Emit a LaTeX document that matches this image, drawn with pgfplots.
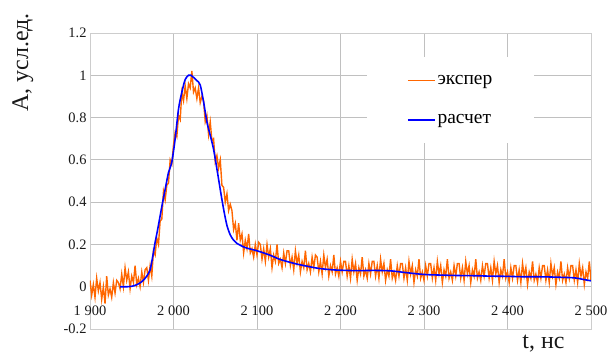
\documentclass[border=0pt]{standalone}
\usepackage{fontspec}
\setmainfont{Liberation Serif}
\newfontfamily\tnr{Liberation Serif}
\usepackage{pgfplots}
\pgfplotsset{compat=1.18}
\definecolor{expo}{RGB}{255,102,0}
\definecolor{gridc}{RGB}{192,192,192}
\begin{document}
\begin{tikzpicture}
\path[use as bounding box] (-90bp,-25bp) rectangle (519bp,329bp);
\begin{axis}[
  scale only axis, width=501bp, height=296bp,
  xmin=1900, xmax=2500, ymin=-0.2, ymax=1.2,
  xtick={1900,2000,2100,2200,2300,2400,2500},
  xticklabels={1 900,2 000,2 100,2 200,2 300,2 400,2 500},
  ytick={-0.2,0,0.2,0.4,0.6,0.8,1,1.2},
  yticklabels={-0.2,0,0.2,0.4,0.6,0.8,1,1.2},
  /pgf/number format/assume math mode=true,
  major tick length=0pt,
  grid=major, grid style={draw=gridc, line width=0.8pt},
  axis line style={draw=gridc!80, line width=0.8pt},
  tick label style={font=\tnr\fontsize{14.5}{16}\selectfont, text=black!90},
  xticklabel style={yshift=27bp},
  xlabel={t, нс}, ylabel={А, усл.ед.},
  label style={font=\tnr\fontsize{24}{26}\selectfont, text=black!90},
  ylabel style={at={(rel axis cs:-0.134,0.90)}, anchor=center},
  xlabel style={at={(rel axis cs:0.905,-0.05)}, anchor=center},
  legend style={at={(rel axis cs:0.553,0.919)}, anchor=north west,
    draw=none, fill=white, font=\tnr\fontsize{19.5}{21}\selectfont,
    inner xsep=40bp, inner ysep=16bp, row sep=25bp},
  legend cell align=left,
  legend image code/.code={\draw[#1, line width=1.4pt] (0bp,0bp) -- (27bp,0bp);},
]
\addplot[expo, line width=1.4pt] coordinates {
(1900,0.03)(1902,-0.04)(1904,0.01)(1906,-0.05)(1908,0.04)(1910,-0.02)(1912,0.02)(1914,-0.06)(1916,0.00)(1918,-0.08)
(1920,0.05)(1922,-0.04)(1924,-0.01)(1926,-0.05)(1928,0.02)(1930,-0.03)(1932,0.03)(1934,0.02)(1936,-0.01)(1938,0.06)
(1940,0.00)(1942,0.09)(1944,0.03)(1946,0.07)(1948,-0.01)(1950,0.05)(1952,0.02)(1954,0.10)(1956,0.01)(1958,0.04)
(1960,0.00)(1962,0.07)(1964,0.02)(1966,0.08)(1968,0.09)(1970,0.03)(1972,0.10)(1974,0.05)(1976,0.17)(1978,0.15)
(1980,0.23)(1982,0.20)(1984,0.31)(1986,0.32)(1988,0.45)(1990,0.41)(1992,0.48)(1994,0.49)(1996,0.60)(1998,0.58)
(2000,0.67)(2002,0.73)(2004,0.71)(2006,0.81)(2008,0.79)(2010,0.92)(2012,0.88)(2014,0.95)(2016,0.89)(2018,0.96)
(2020,0.94)(2022,1.02)(2024,0.92)(2026,0.94)(2028,0.89)(2030,0.94)(2032,0.87)(2034,0.90)(2036,0.88)(2038,0.78)
(2040,0.81)(2042,0.72)(2044,0.78)(2046,0.69)(2048,0.70)(2050,0.59)(2052,0.62)(2054,0.56)(2056,0.60)(2058,0.48)
(2060,0.47)(2062,0.40)(2064,0.44)(2066,0.36)(2068,0.39)(2070,0.36)(2072,0.27)(2074,0.30)(2076,0.22)(2078,0.30)
(2080,0.22)(2082,0.25)(2084,0.16)(2086,0.22)(2088,0.18)(2090,0.25)(2092,0.16)(2094,0.18)(2096,0.14)(2098,0.20)
(2100,0.15)(2102,0.21)(2104,0.20)(2106,0.13)(2108,0.18)(2110,0.12)(2112,0.20)(2114,0.14)(2116,0.18)(2118,0.09)
(2120,0.15)(2122,0.12)(2124,0.20)(2126,0.11)(2128,0.13)(2130,0.09)(2132,0.16)(2134,0.11)(2136,0.17)(2138,0.17)
(2140,0.10)(2142,0.14)(2144,0.08)(2146,0.17)(2148,0.11)(2150,0.15)(2152,0.07)(2154,0.12)(2156,0.09)(2158,0.17)
(2160,0.08)(2162,0.11)(2164,0.07)(2166,0.14)(2168,0.09)(2170,0.15)(2172,0.14)(2174,0.07)(2176,0.12)(2178,0.06)
(2180,0.15)(2182,0.09)(2184,0.13)(2186,0.05)(2188,0.10)(2190,0.07)(2192,0.15)(2194,0.06)(2196,0.09)(2198,0.05)
(2200,0.12)(2202,0.07)(2204,0.12)(2206,0.12)(2208,0.05)(2210,0.10)(2212,0.04)(2214,0.13)(2216,0.07)(2218,0.11)
(2220,0.03)(2222,0.09)(2224,0.06)(2226,0.14)(2228,0.05)(2230,0.08)(2232,0.04)(2234,0.11)(2236,0.06)(2238,0.12)
(2240,0.12)(2242,0.05)(2244,0.10)(2246,0.04)(2248,0.13)(2250,0.07)(2252,0.11)(2254,0.03)(2256,0.08)(2258,0.05)
(2260,0.13)(2262,0.04)(2264,0.07)(2266,0.03)(2268,0.10)(2270,0.05)(2272,0.11)(2274,0.11)(2276,0.04)(2278,0.09)
(2280,0.03)(2282,0.12)(2284,0.06)(2286,0.10)(2288,0.02)(2290,0.08)(2292,0.05)(2294,0.13)(2296,0.04)(2298,0.07)
(2300,0.03)(2302,0.10)(2304,0.05)(2306,0.11)(2308,0.11)(2310,0.04)(2312,0.09)(2314,0.03)(2316,0.12)(2318,0.06)
(2320,0.10)(2322,0.02)(2324,0.08)(2326,0.05)(2328,0.13)(2330,0.04)(2332,0.07)(2334,0.03)(2336,0.10)(2338,0.05)
(2340,0.11)(2342,0.11)(2344,0.04)(2346,0.09)(2348,0.03)(2350,0.12)(2352,0.06)(2354,0.10)(2356,0.02)(2358,0.08)
(2360,0.05)(2362,0.13)(2364,0.04)(2366,0.07)(2368,0.03)(2370,0.10)(2372,0.05)(2374,0.11)(2376,0.11)(2378,0.04)
(2380,0.09)(2382,0.03)(2384,0.12)(2386,0.06)(2388,0.10)(2390,0.02)(2392,0.08)(2394,0.05)(2396,0.13)(2398,0.04)
(2400,0.07)(2402,0.02)(2404,0.09)(2406,0.04)(2408,0.10)(2410,0.10)(2412,0.03)(2414,0.08)(2416,0.02)(2418,0.11)
(2420,0.05)(2422,0.09)(2424,0.01)(2426,0.07)(2428,0.04)(2430,0.12)(2432,0.03)(2434,0.06)(2436,0.02)(2438,0.09)
(2440,0.04)(2442,0.10)(2444,0.10)(2446,0.03)(2448,0.08)(2450,0.02)(2452,0.11)(2454,0.05)(2456,0.09)(2458,0.01)
(2460,0.07)(2462,0.04)(2464,0.12)(2466,0.03)(2468,0.06)(2470,0.02)(2472,0.09)(2474,0.04)(2476,0.10)(2478,0.10)
(2480,0.03)(2482,0.08)(2484,0.02)(2486,0.11)(2488,0.05)(2490,0.09)(2492,0.01)(2494,0.07)(2496,0.04)(2498,0.12)
(2500,0.03)
};
\addlegendentry{экспер}
\addplot[blue, line width=1.6pt, smooth] coordinates {
(1936,0)(1945,0)(1950,0.002)(1955,0.008)(1960,0.018)(1965,0.035)(1968,0.05)(1972,0.08)(1975,0.14)(1978,0.21)
(1981,0.27)(1984,0.335)(1987,0.40)(1990,0.46)(1994,0.54)(1998,0.59)(2002,0.70)(2006,0.84)(2010,0.92)(2014,0.98)
(2018,1.0)(2021,1.0)(2024,0.99)(2028,0.975)(2032,0.954)(2036,0.875)(2040,0.78)(2044,0.716)(2048,0.65)(2052,0.557)
(2056,0.46)(2060,0.367)(2064,0.29)(2068,0.245)(2072,0.22)(2076,0.205)(2086,0.185)(2100,0.17)(2115,0.15)(2127,0.13)
(2140,0.115)(2150,0.105)(2165,0.093)(2175,0.086)(2190,0.08)(2200,0.078)(2220,0.076)(2240,0.077)(2260,0.075)(2280,0.066)
(2300,0.058)(2320,0.055)(2340,0.053)(2360,0.052)(2380,0.05)(2400,0.049)(2420,0.047)(2440,0.047)(2460,0.045)(2480,0.042)
(2490,0.035)(2500,0.028)
};
\addlegendentry{расчет}
\end{axis}
\end{tikzpicture}
\end{document}
